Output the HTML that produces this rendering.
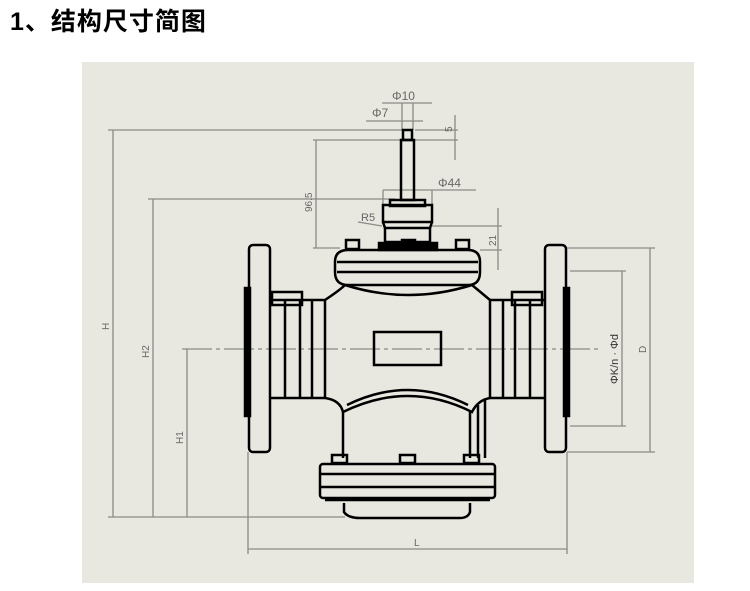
<!DOCTYPE html>
<html><head><meta charset="utf-8"><style>
body{margin:0;background:#fff;width:750px;height:591px;overflow:hidden;position:relative;font-family:"Liberation Sans","Noto Sans CJK SC",sans-serif}
.t{position:absolute;left:10px;top:2px;font-size:25px;font-weight:bold;color:#000;letter-spacing:1px}
svg{position:absolute;left:0;top:0}
</style></head><body>
<div class="t">1、结构尺寸简图</div>
<svg width="750" height="591" viewBox="0 0 750 591">
<rect x="82" y="62" width="612" height="521" fill="#e9e8e0"/>
<g stroke="#8a8a86" stroke-width="1.3" fill="none">
<line x1="113" y1="130" x2="113" y2="517"/><line x1="108" y1="130" x2="405" y2="130"/><line x1="108" y1="517" x2="345" y2="517"/>
<line x1="153" y1="199" x2="153" y2="517"/><line x1="148" y1="199" x2="395" y2="199"/>
<line x1="187" y1="349" x2="187" y2="517"/><line x1="182" y1="349" x2="600" y2="349" stroke-dasharray="30,4,4,4"/>
<line x1="316" y1="140" x2="316" y2="248"/><line x1="313" y1="140" x2="402" y2="140"/><line x1="313" y1="248" x2="340" y2="248"/>
<line x1="248" y1="549" x2="567" y2="549"/><line x1="248" y1="452" x2="248" y2="554"/><line x1="567" y1="452" x2="567" y2="554"/>
<line x1="650" y1="248" x2="650" y2="452"/><line x1="567" y1="248" x2="655" y2="248"/><line x1="567" y1="452" x2="655" y2="452"/>
<line x1="622" y1="271" x2="622" y2="426"/><line x1="570" y1="271" x2="626" y2="271"/><line x1="570" y1="426" x2="626" y2="426"/>
<line x1="498" y1="208" x2="498" y2="270"/><line x1="432" y1="226" x2="502" y2="226"/><line x1="480" y1="250" x2="502" y2="250"/>
<line x1="455" y1="115" x2="455" y2="160"/><line x1="415" y1="140" x2="458" y2="140"/><line x1="415" y1="130" x2="458" y2="130"/>
<line x1="382" y1="103" x2="432" y2="103"/><line x1="366" y1="121" x2="423" y2="121"/>
<line x1="383" y1="190" x2="476" y2="190"/><line x1="383" y1="190" x2="383" y2="205"/><line x1="432" y1="190" x2="432" y2="205"/>
<line x1="402" y1="103" x2="402" y2="130"/><line x1="413" y1="103" x2="413" y2="130"/>
<line x1="358" y1="222" x2="382" y2="226"/>
</g>
<g font-family="Liberation Sans,sans-serif" font-size="10" fill="#666">
<text x="392" y="100" font-size="12">Φ10</text><text x="372" y="117" font-size="12">Φ7</text>
<text x="438" y="187" font-size="12">Φ44</text><text x="361" y="221" font-size="11">R5</text>
<text transform="translate(109,330) rotate(-90)">H</text>
<text transform="translate(149,358) rotate(-90)">H2</text>
<text transform="translate(183,444) rotate(-90)">H1</text>
<text transform="translate(312,212) rotate(-90)">96.5</text>
<text transform="translate(496,246) rotate(-90)">21</text>
<text transform="translate(452,132) rotate(-90)">5</text>
<text transform="translate(618,384) rotate(-90)" font-size="11" fill="#333">ΦK/n · Φd</text>
<text transform="translate(646,353) rotate(-90)">D</text>
<text x="414" y="546">L</text>
</g>
<g stroke="#000" stroke-width="2.5" fill="none">
<rect x="249" y="245" width="21" height="207" rx="4"/>
<rect x="545" y="245" width="21" height="207" rx="4"/>
<rect x="245" y="288" width="5" height="128" fill="#000"/><rect x="564" y="288" width="5" height="128" fill="#000"/>
<path d="M270 300 H325 M270 398 H325 M285 300 V398 M300 300 V398 M312 300 V398 M325 300 V398"/>
<path d="M545 300 H490 M545 398 H490 M530 300 V398 M515 300 V398 M503 300 V398 M490 300 V398"/>
<rect x="272" y="292" width="30" height="13"/><rect x="512" y="292" width="30" height="13"/>
<path d="M325 300 Q340 290 345 285 M490 300 Q478 290 472 285"/>
<path d="M325 398 Q340 400 343 412 Q408 380 472 412 Q478 400 490 398"/>
<path d="M347 405 Q408 375 468 405"/>
<rect x="374" y="332" width="67" height="33"/>
<path d="M343 412 V458 M470 412 V458 M478 405 V458 M485 400 V458"/>
<path d="M335 262 Q335 250 348 250 H468 Q480 250 480 262 V272 Q480 285 468 285 H348 Q335 285 335 272 Z"/>
<path d="M337 262 H478 M337 272 H478"/>
<path d="M345 285 Q408 305 472 285"/>
<rect x="346" y="240" width="13" height="9"/><rect x="402" y="240" width="13" height="9"/><rect x="456" y="240" width="13" height="9"/>
<rect x="383" y="205" width="49" height="17"/>
<rect x="385" y="228" width="45" height="14"/>
<path d="M383 222 L385 228 M432 222 L430 228"/>
<rect x="379" y="243" width="58" height="7" fill="#000"/>
<rect x="390" y="200" width="35" height="6"/>
<rect x="401" y="140" width="13" height="60"/>
<rect x="403" y="130" width="9" height="10"/>
<rect x="332" y="455" width="15" height="8"/><rect x="400" y="455" width="15" height="8"/><rect x="464" y="455" width="15" height="8"/>
<rect x="320" y="464" width="175" height="34" rx="3"/>
<path d="M321 474 H494 M321 487 H494"/>
<path d="M325 500 H490 M344 503 V512 Q348 518 360 518 H460 Q468 518 470 512 V503"/>
</g>
</svg>
</body></html>
